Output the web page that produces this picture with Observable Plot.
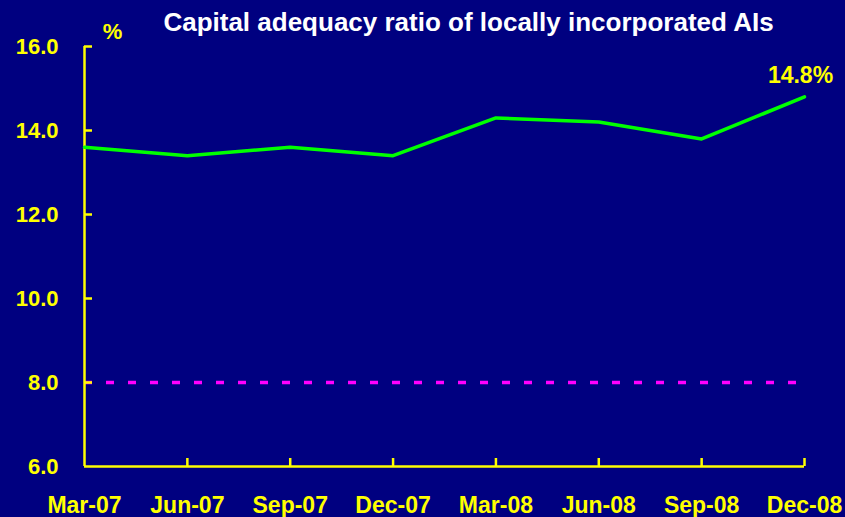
<!DOCTYPE html>
<html><head><meta charset="utf-8">
<script src="https://cdn.jsdelivr.net/npm/d3@7"></script>
<script src="https://cdn.jsdelivr.net/npm/@observablehq/plot@0.6"></script>
<style>
html,body{margin:0;padding:0;background:#000080;}
</style></head>
<body><div id="chart"></div>
<script>
const quarters = ["Mar-07","Jun-07","Sep-07","Dec-07","Mar-08","Jun-08","Sep-08","Dec-08"];
const car = [13.6, 13.4, 13.6, 13.4, 14.3, 14.2, 13.8, 14.8];
const minimum = 8.0;
const yTicks = [6, 8, 10, 12, 14, 16];
const title = "Capital adequacy ratio of locally incorporated AIs";
const unitLabel = "%";
const lastLabel = "14.8%";

const data = quarters.map((q, i) => ({q, v: car[i]}));
const yellow = "#FFFF00";
const font = "Liberation Sans, Arial, sans-serif";
const first = quarters[0], last = quarters[quarters.length - 1];

const chart = Plot.plot({
  width: 845, height: 517,
  marginLeft: 84, marginRight: 41, marginTop: 46, marginBottom: 51,
  style: {background: "#000080", fontFamily: font, fontWeight: "bold", overflow: "visible"},
  x: {type: "point", domain: quarters, padding: 0, round: false},
  y: {domain: [6, 16]},
  marks: [
    Plot.axisY({ticks: yTicks, tickSize: 0, tickPadding: 26, tickFormat: d3.format(".1f"),
      fill: yellow, fontSize: 22, fontWeight: "bold", label: null}),
    Plot.axisX({tickSize: 0, tickPadding: 30, fill: yellow, fontSize: 23, fontWeight: "bold", label: null}),
    Plot.ruleY([minimum], {x1: () => first, x2: () => last, stroke: "#FF00FF", strokeWidth: 3.5, strokeDasharray: "8,14"}),
    Plot.ruleX([first], {y1: 6, y2: 16, stroke: yellow, strokeWidth: 2.5}),
    Plot.ruleY([6], {x1: () => first, x2: () => last, stroke: yellow, strokeWidth: 2.5}),
    Plot.ruleY(yTicks.slice(1), {y: d => d, x1: () => first, x2: () => first, insetRight: -8, stroke: yellow, strokeWidth: 2.5}),
    Plot.ruleX(quarters.slice(1), {x: d => d, y1: 6, y2: 6, insetTop: -8, stroke: yellow, strokeWidth: 2.5}),
    Plot.line(data, {x: "q", y: "v", stroke: "#00FF00", strokeWidth: 3.5}),
    Plot.text([data[data.length - 1]], {x: "q", y: "v", text: () => lastLabel, dy: -21, dx: -4,
      fill: yellow, fontSize: 23, fontWeight: "bold"}),
    Plot.text([title], {frameAnchor: "top-left", lineAnchor: "middle", textAnchor: "middle", dy: -24, dx: 384,
      text: d => d, fill: "white", fontSize: 26, fontWeight: "bold"}),
    Plot.text([unitLabel], {frameAnchor: "top-left", lineAnchor: "middle", textAnchor: "middle", dy: -15, dx: 28,
      text: d => d, fill: yellow, fontSize: 22, fontWeight: "bold"})
  ]
});
document.getElementById("chart").appendChild(chart);
</script>
</body></html>
